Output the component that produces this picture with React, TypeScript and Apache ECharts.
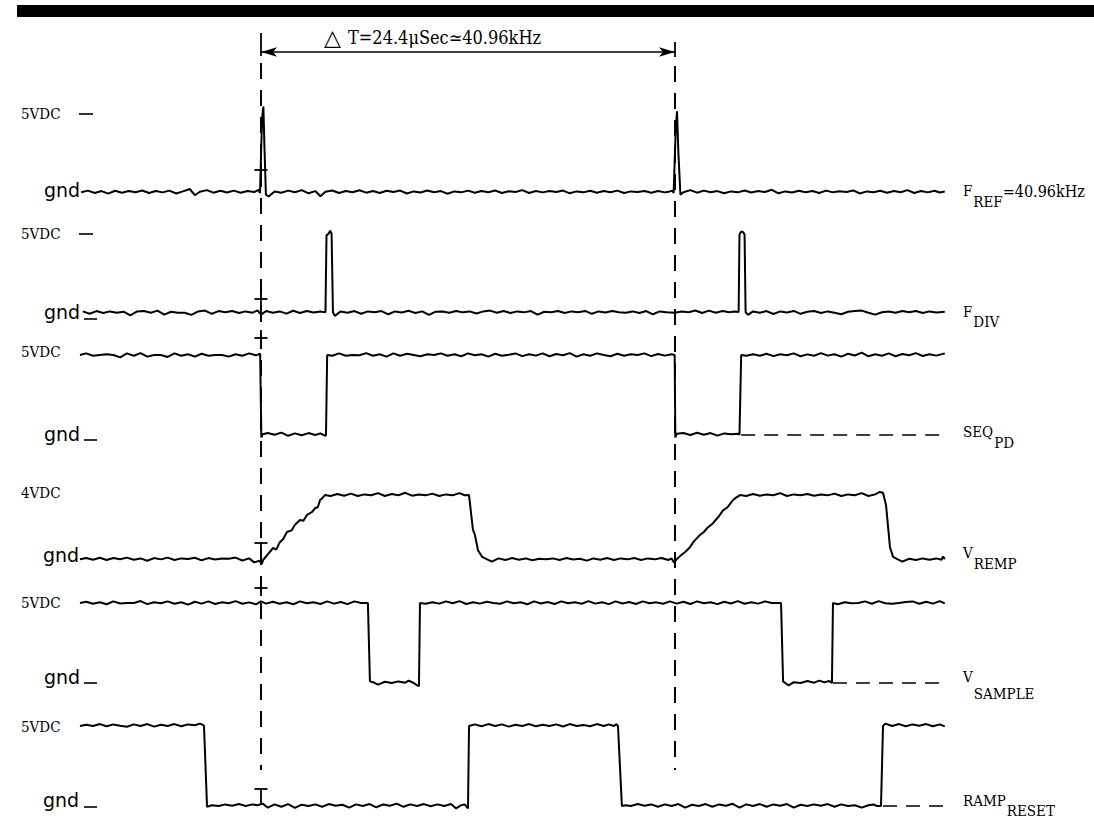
import React, { useEffect, useRef } from "react";
import * as echarts from "echarts";

// time axis in microseconds (t = 0 at the first reference pulse)
const T_MIN = -11;
const T_MAX = 40.5;
const PERIOD_US = 24.4;
const HEADER_TEXT = "T=24.4\u03bcSec\u224340.96kHz";

// [time µs, volts]
const fRef: [number, number][] = [
  [-10.6, 0.05], [-10.2, 0.15], [-9.8, 0], [-9.4, 0.12], [-9.0, -0.04], [-8.6, 0.14], [-8.2, 0.02], [-7.8, 0.13],
  [-7.4, 0.05], [-7.0, 0.16], [-6.6, 0], [-6.2, 0.13], [-5.8, 0.04], [-5.4, 0.15], [-5.0, -0.03], [-4.6, 0.1],
  [-4.2, 0.25], [-3.9, -0.14], [-3.6, 0.08], [-3.2, 0.18], [-2.8, 0.02], [-2.4, 0.14], [-2.0, 0.03], [-1.6, 0.15],
  [-1.2, 0.02], [-0.8, 0.12], [-0.4, 0.06], [-0.15, 0.2], [-0.06, 0], [0.06, 4.6], [0.14, 5.4], [0.2, 3.0],
  [0.29, -0.1], [0.45, -0.22], [0.8, 0.1], [1.2, 0.02], [1.6, 0.15], [2.0, 0.05], [2.4, 0.18], [2.8, -0.02],
  [3.2, 0.12], [3.5, -0.2], [3.8, 0.08], [4.2, 0.16], [4.6, 0], [5.0, 0.13], [5.4, 0.05], [5.8, 0.17],
  [6.2, 0.02], [6.6, 0.12], [7.0, 0], [7.4, 0.14], [7.8, 0.06], [8.2, 0.15], [8.6, -0.03], [9.0, 0.1],
  [9.4, 0.03], [9.8, 0.16], [10.2, 0.05], [10.6, 0.12], [11.0, -0.05], [11.4, 0.1], [11.8, 0.04], [12.2, 0.15],
  [12.6, 0.02], [13.0, 0.12], [13.4, 0.05], [13.8, 0.16], [14.2, 0], [14.6, 0.11], [15.0, 0.06], [15.4, 0.18],
  [15.8, 0], [16.2, 0.13], [16.6, 0.04], [17.0, 0.12], [17.4, 0.06], [17.8, 0.15], [18.2, -0.02], [18.6, 0.1],
  [19.0, 0.04], [19.4, 0.14], [19.8, 0.02], [20.2, 0.12], [20.6, 0.05], [21.0, 0.15], [21.4, 0], [21.8, 0.1],
  [22.2, 0.06], [22.6, 0.13], [23.0, 0.02], [23.4, 0.12], [23.8, 0.04], [24.1, 0.1], [24.25, 0.15], [24.32, 0],
  [24.45, 4.2], [24.52, 5.1], [24.6, 2.5], [24.72, -0.1], [24.9, 0.05], [25.3, 0.18], [25.7, 0.02], [26.1, 0.15],
  [26.5, 0.05], [26.9, 0.12], [27.3, -0.02], [27.7, 0.1], [28.1, 0.04], [28.5, 0.16], [28.9, 0.03], [29.3, 0.12],
  [29.7, 0.06], [30.1, 0.2], [30.5, -0.02], [30.9, 0.1], [31.3, 0.03], [31.7, 0.14], [32.1, 0.05], [32.5, 0.12],
  [32.9, 0], [33.3, 0.15], [33.7, 0.04], [34.1, 0.11], [34.5, 0.06], [34.9, 0.16], [35.3, -0.03], [35.7, 0.1],
  [36.1, 0.05], [36.5, 0.14], [36.9, 0.02], [37.3, 0.12], [37.7, 0.05], [38.1, 0.18], [38.5, 0], [38.9, 0.13],
  [39.3, 0.04], [39.7, 0.14], [40.0, 0.03], [40.3, 0.1],
];

const fDiv: [number, number][] = [
  [-10.5, 0.1], [-10.1, -0.05], [-9.7, 0.12], [-9.3, 0], [-8.9, 0.1], [-8.5, 0.02], [-8.1, 0.08], [-7.7, -0.15],
  [-7.3, 0.1], [-6.9, 0.12], [-6.5, 0.02], [-6.1, 0.15], [-5.7, -0.1], [-5.3, 0.08], [-4.9, 0.02], [-4.5, 0.02],
  [-4.1, -0.12], [-3.7, 0.1], [-3.3, 0.15], [-2.9, -0.05], [-2.5, 0.12], [-2.1, 0.05], [-1.7, 0.13], [-1.3, 0],
  [-0.9, 0.1], [-0.5, 0.02], [-0.2, 0.16], [0, -0.1], [0.3, 0.12], [0.7, 0.02], [1.1, 0.1], [1.5, -0.04],
  [1.9, 0.14], [2.3, 0], [2.7, 0.12], [3.1, 0.03], [3.5, 0.1], [3.8, 0.04], [3.86, 4.85], [3.98, 4.95],
  [4.08, 5.15], [4.16, 4.95], [4.24, 0.05], [4.35, -0.18], [4.7, 0.1], [5.1, 0.02], [5.5, 0.12], [5.9, -0.05],
  [6.3, 0.1], [6.7, 0.05], [7.1, 0.12], [7.5, -0.08], [7.9, 0.1], [8.3, 0.03], [8.7, 0.14], [9.1, 0],
  [9.5, 0.1], [9.9, -0.12], [10.3, 0.08], [10.7, 0.1], [11.1, 0.02], [11.5, 0.13], [11.9, 0.04], [12.3, 0.1],
  [12.7, -0.03], [13.1, 0.1], [13.5, 0.15], [13.9, 0.02], [14.3, 0.12], [14.7, 0], [15.1, 0.1], [15.5, 0.04],
  [15.9, 0.12], [16.3, -0.1], [16.7, 0.08], [17.1, 0.05], [17.5, 0.12], [17.9, 0], [18.3, 0.1], [18.7, 0.05],
  [19.1, 0.13], [19.5, -0.05], [19.9, 0.1], [20.3, 0.03], [20.7, 0.12], [21.1, 0.05], [21.5, 0.02], [21.9, 0.1],
  [22.3, 0], [22.7, 0.12], [23.1, -0.08], [23.5, 0.1], [23.9, 0.04], [24.4, 0.02], [24.8, 0.1], [25.2, 0.05],
  [25.6, 0.16], [26.0, 0], [26.4, 0.15], [26.8, 0.02], [27.2, 0.12], [27.6, 0.05], [27.9, 0.1], [28.15, 0.06],
  [28.2, 4.9], [28.3, 5.1], [28.42, 5.05], [28.5, 4.9], [28.56, 0.05], [28.7, -0.12], [29.0, 0.1], [29.4, 0.02],
  [29.8, 0.12], [30.2, -0.06], [30.6, 0.1], [31.0, 0.03], [31.4, 0.13], [31.8, -0.05], [32.2, 0.08], [32.6, 0.12],
  [33.0, 0], [33.4, 0.1], [33.8, 0.02], [34.2, -0.08], [34.6, 0.08], [35.0, 0.12], [35.4, 0.15], [35.8, 0.02],
  [36.2, -0.1], [36.6, 0.05], [37.0, 0.1], [37.4, 0.02], [37.8, 0.12], [38.2, 0.05], [38.6, 0.13], [39.0, 0],
  [39.4, 0.1], [39.8, 0.03], [40.3, 0.08],
];

const seqPd: [number, number][] = [
  [-10.67, 5.0], [-10.3, 5.1], [-9.9, 4.95], [-9.5, 5.0], [-9.1, 5.05], [-8.7, 5.0], [-8.3, 4.85], [-7.9, 5.1],
  [-7.5, 4.95], [-7.1, 5.12], [-6.7, 4.9], [-6.3, 5.0], [-5.9, 5.0], [-5.5, 4.88], [-5.1, 5.1], [-4.7, 4.95],
  [-4.3, 5.05], [-3.9, 4.9], [-3.5, 5.08], [-3.1, 4.95], [-2.7, 5.0], [-2.3, 5.0], [-1.9, 4.9], [-1.5, 5.05],
  [-1.1, 4.95], [-0.7, 5.1], [-0.3, 4.98], [-0.05, 5.08], [0.02, -0.15], [0.1, 0.05], [0.4, 0.12], [0.8, 0.02],
  [1.2, 0.15], [1.6, -0.05], [2.0, 0.1], [2.4, -0.02], [2.8, 0.12], [3.2, 0], [3.5, 0.1], [3.8, -0.05],
  [3.83, 0], [3.9, 5.0], [4.2, 4.95], [4.6, 5.1], [5.0, 4.95], [5.4, 5.0], [5.8, 4.98], [6.2, 5.12],
  [6.6, 4.95], [7.0, 5.05], [7.4, 4.9], [7.8, 5.1], [8.2, 4.95], [8.6, 5.08], [9.0, 5.0], [9.4, 4.92],
  [9.8, 5.05], [10.2, 5.0], [10.6, 5.1], [11.0, 4.95], [11.4, 5.05], [11.8, 4.92], [12.2, 5.1], [12.6, 4.98],
  [13.0, 5.05], [13.4, 4.9], [13.8, 5.08], [14.2, 4.95], [14.6, 5.02], [15.0, 5.1], [15.4, 4.93], [15.8, 5.05],
  [16.2, 4.96], [16.6, 5.1], [17.0, 4.92], [17.4, 5.06], [17.8, 4.98], [18.2, 5.12], [18.6, 4.9], [19.0, 5.05],
  [19.4, 4.95], [19.8, 5.1], [20.2, 5.0], [20.6, 4.92], [21.0, 5.08], [21.4, 4.95], [21.8, 5.05], [22.2, 5.0],
  [22.6, 5.1], [23.0, 4.93], [23.4, 5.06], [23.8, 4.96], [24.2, 5.05], [24.38, 5.0], [24.42, -0.15], [24.5, 0.08],
  [24.9, 0.12], [25.3, 0], [25.7, 0.14], [26.1, 0.02], [26.5, 0.12], [26.9, -0.04], [27.3, 0.1], [27.7, 0.05],
  [28.1, 0.08], [28.2, 0.02], [28.3, 5.0], [28.6, 4.95], [29.0, 5.05], [29.4, 4.95], [29.8, 5.08], [30.2, 4.93],
  [30.6, 5.05], [31.0, 4.98], [31.4, 5.1], [31.8, 4.92], [32.2, 5.04], [32.6, 4.95], [33.0, 5.12], [33.4, 4.96],
  [33.8, 5.05], [34.2, 4.9], [34.6, 5.08], [35.0, 4.97], [35.4, 5.15], [35.8, 4.92], [36.2, 5.05], [36.6, 4.95],
  [37.0, 5.1], [37.4, 4.92], [37.8, 5.06], [38.2, 4.98], [38.6, 5.12], [39.0, 4.94], [39.4, 5.05], [39.8, 4.96],
  [40.3, 5.1],
];
const seqPdTail: [number, number][] = [[28.3, 0], [40.3, 0]];

const vRemp: [number, number][] = [
  [-10.67, 0.05], [-10.3, 0.12], [-9.9, 0.02], [-9.5, 0.14], [-9.1, 0], [-8.7, 0.12], [-8.3, 0.05], [-7.9, 0.15],
  [-7.5, 0.02], [-7.1, 0.1], [-6.7, -0.05], [-6.3, 0.12], [-5.9, 0.04], [-5.5, 0.15], [-5.1, 0], [-4.7, 0.1],
  [-4.3, 0.06], [-3.9, 0.14], [-3.5, -0.02], [-3.1, 0.12], [-2.7, 0.03], [-2.3, 0.1], [-1.9, 0.08], [-1.5, 0.15],
  [-1.1, -0.03], [-0.7, 0.1], [-0.4, -0.15], [-0.1, -0.05], [0.05, -0.25], [0.12, 0], [0.4, 0.35], [0.71, 0.75],
  [0.9, 0.65], [1.1, 1.1], [1.3, 1.3], [1.53, 1.75], [1.8, 1.85], [2.0, 2.2], [2.3, 2.5], [2.5, 2.45],
  [2.7, 2.8], [3.0, 3.0], [3.2, 3.25], [3.35, 3.3], [3.48, 3.75], [3.6, 3.85], [3.77, 4.06], [4.1, 4.0],
  [4.5, 4.12], [4.9, 4.02], [5.3, 4.15], [5.7, 4.0], [6.1, 4.1], [6.5, 4.05], [6.9, 4.18], [7.3, 4.0],
  [7.7, 4.12], [8.1, 4.05], [8.5, 4.2], [8.9, 4.02], [9.3, 4.1], [9.7, 4.04], [10.1, 4.15], [10.5, 4.0],
  [10.9, 4.1], [11.3, 4.05], [11.7, 4.18], [12.0, 4.05], [12.26, 4.06], [12.49, 1.9], [12.6, 1.6], [12.79, 0.6],
  [13.03, 0.2], [13.3, 0.05], [13.6, -0.1], [14.0, 0.1], [14.4, 0], [14.8, 0.12], [15.2, 0.02], [15.6, 0.1],
  [16.0, -0.02], [16.4, 0.08], [16.8, 0.05], [17.2, 0.1], [17.6, 0], [18.0, 0.12], [18.4, 0.03], [18.8, 0.08],
  [19.2, -0.04], [19.6, 0.1], [20.0, 0.02], [20.4, 0.12], [20.8, 0], [21.2, 0.1], [21.6, 0.04], [22.0, 0.12],
  [22.4, 0], [22.8, 0.1], [23.2, 0.04], [23.6, 0.12], [24.0, 0], [24.2, 0.1], [24.34, -0.15], [24.5, 0.05],
  [24.7, 0.25], [25.0, 0.5], [25.28, 0.8], [25.5, 1.15], [25.87, 1.56], [26.1, 1.75], [26.3, 2.0], [26.64, 2.3],
  [26.8, 2.5], [27.0, 2.75], [27.23, 3.1], [27.5, 3.3], [27.82, 3.75], [28.0, 3.9], [28.23, 4.06], [28.6, 4.0],
  [29.0, 4.12], [29.4, 4.02], [29.8, 4.1], [30.2, 4.05], [30.6, 4.18], [31.0, 4.0], [31.4, 4.1], [31.8, 4.05],
  [32.2, 4.12], [32.6, 4.02], [33.0, 4.1], [33.4, 4.04], [33.8, 4.15], [34.2, 4.0], [34.6, 4.1], [35.0, 4.05],
  [35.4, 4.18], [35.8, 4.0], [36.2, 4.1], [36.45, 4.25], [36.66, 4.2], [36.84, 3.4], [37.07, 0.8], [37.25, 0.2],
  [37.5, 0.05], [37.8, -0.1], [38.2, 0.08], [38.6, 0], [39.0, 0.1], [39.4, 0.02], [39.8, 0.1], [40.1, 0.02],
  [40.2, 0.22], [40.3, 0.05],
];

const vSample: [number, number][] = [
  [-10.67, 5.0], [-10.3, 5.08], [-9.9, 4.95], [-9.5, 5.05], [-9.1, 4.92], [-8.7, 5.1], [-8.3, 4.97], [-7.9, 5.0],
  [-7.5, 5.0], [-7.1, 5.12], [-6.7, 4.93], [-6.3, 5.05], [-5.9, 4.98], [-5.5, 5.1], [-5.1, 4.95], [-4.7, 5.05],
  [-4.3, 4.9], [-3.9, 5.08], [-3.5, 4.96], [-3.1, 5.1], [-2.7, 4.94], [-2.3, 5.05], [-1.9, 4.98], [-1.5, 5.12],
  [-1.1, 4.95], [-0.7, 5.04], [-0.3, 4.92], [0, 5.1], [0.3, 4.96], [0.7, 5.08], [1.1, 4.95], [1.5, 5.05],
  [1.9, 4.92], [2.3, 5.1], [2.7, 4.98], [3.1, 5.05], [3.5, 4.94], [3.9, 5.1], [4.3, 4.96], [4.7, 5.06],
  [5.1, 4.93], [5.5, 5.1], [5.9, 5.0], [6.3, 5.0], [6.42, 0.1], [6.6, 0.05], [6.9, -0.1], [7.3, 0.08],
  [7.7, 0], [8.1, 0.1], [8.5, 0.02], [8.7, 0.15], [9.0, 0], [9.2, -0.15], [9.31, -0.2], [9.37, 5.0],
  [9.7, 4.95], [10.1, 5.05], [10.5, 4.96], [10.9, 5.1], [11.3, 4.98], [11.7, 5.12], [12.1, 4.94], [12.5, 5.05],
  [12.9, 4.96], [13.3, 5.08], [13.7, 5.0], [14.1, 4.95], [14.5, 5.1], [14.9, 4.98], [15.3, 5.05], [15.7, 4.92],
  [16.1, 5.1], [16.5, 4.97], [16.9, 5.06], [17.3, 4.94], [17.7, 5.1], [18.1, 4.98], [18.5, 5.05], [18.9, 4.95],
  [19.3, 5.12], [19.7, 4.96], [20.1, 5.05], [20.5, 4.93], [20.9, 5.1], [21.3, 4.97], [21.7, 5.06], [22.1, 4.94],
  [22.5, 5.1], [22.9, 4.98], [23.3, 5.04], [23.7, 4.95], [24.1, 5.1], [24.5, 4.96], [24.9, 5.08], [25.3, 4.94],
  [25.7, 5.1], [26.1, 4.98], [26.5, 5.05], [26.9, 4.93], [27.3, 5.08], [27.7, 4.97], [28.1, 5.12], [28.5, 4.95],
  [28.9, 5.05], [29.3, 4.96], [29.7, 5.1], [30.1, 5.0], [30.5, 5.0], [30.65, 5.0], [30.77, 0.1], [30.9, 0],
  [31.1, -0.15], [31.4, 0.05], [31.8, 0], [32.2, 0.12], [32.6, 0.02], [32.9, 0.15], [33.2, 0.05], [33.5, 0.12],
  [33.65, 0], [33.71, 5.0], [34.0, 4.92], [34.4, 5.05], [34.8, 4.98], [35.2, 5.0], [35.6, 5.1], [36.0, 4.95],
  [36.4, 5.12], [36.8, 4.98], [37.2, 4.95], [37.6, 5.0], [38.0, 5.06], [38.4, 5.1], [38.8, 4.95], [39.2, 5.08],
  [39.6, 4.96], [40.0, 5.12], [40.3, 4.98],
];
const vSampleTail: [number, number][] = [[33.71, 0], [40.3, 0]];

const rampReset: [number, number][] = [
  [-10.67, 5.0], [-10.3, 5.08], [-9.9, 5.0], [-9.5, 5.12], [-9.1, 4.98], [-8.7, 5.1], [-8.3, 5.02], [-7.9, 4.95],
  [-7.5, 5.1], [-7.1, 5.0], [-6.7, 5.12], [-6.3, 4.96], [-5.9, 5.08], [-5.5, 5.0], [-5.1, 5.12], [-4.7, 4.98],
  [-4.3, 5.1], [-3.9, 5.05], [-3.6, 5.15], [-3.4, 5.05], [-3.36, 5.0], [-3.18, -0.05], [-2.9, 0.05], [-2.5, 0],
  [-2.1, 0.1], [-1.7, 0.02], [-1.3, 0.12], [-0.9, 0], [-0.5, 0.1], [-0.2, 0.05], [0.1, 0.15], [0.4, -0.1],
  [0.8, 0.1], [1.2, -0.05], [1.6, 0.12], [2.0, -0.12], [2.4, 0.08], [2.8, 0], [3.2, 0.1], [3.6, -0.05],
  [4.0, 0.12], [4.4, 0.02], [4.8, 0.08], [5.2, -0.1], [5.6, 0.1], [6.0, 0], [6.4, 0.12], [6.8, -0.08],
  [7.2, 0.1], [7.6, 0.02], [8.0, 0.15], [8.4, -0.05], [8.8, 0.1], [9.2, 0], [9.6, 0.12], [10.0, -0.02],
  [10.4, 0.1], [10.8, 0], [11.2, 0.12], [11.5, -0.15], [11.8, 0.05], [12.0, 0.1], [12.2, -0.15], [12.26, 5.0],
  [12.6, 5.1], [13.0, 4.98], [13.4, 5.12], [13.8, 5.0], [14.2, 5.1], [14.6, 4.96], [15.0, 5.08], [15.4, 5.0],
  [15.8, 5.12], [16.2, 4.98], [16.6, 5.08], [17.0, 5.0], [17.4, 5.1], [17.8, 4.97], [18.2, 5.12], [18.6, 5.0],
  [19.0, 5.06], [19.4, 4.98], [19.8, 5.12], [20.2, 5.0], [20.5, 5.1], [20.8, 5.0], [20.95, 5.12], [21.04, 5.0],
  [21.27, 0], [21.5, 0.05], [21.8, 0], [22.2, 0.12], [22.6, 0.02], [23.0, 0.1], [23.4, -0.05], [23.8, 0.1],
  [24.2, 0], [24.6, 0.12], [25.0, -0.1], [25.4, 0.08], [25.8, 0], [26.2, 0.12], [26.6, -0.05], [27.0, 0.1],
  [27.4, 0.02], [27.8, 0.14], [28.2, -0.1], [28.6, 0.1], [29.0, 0], [29.4, 0.12], [29.8, -0.05], [30.2, 0.1],
  [30.6, 0.02], [31.0, 0.12], [31.4, -0.1], [31.8, 0.08], [32.2, 0], [32.6, 0.1], [33.0, 0.02], [33.4, 0.12],
  [33.8, -0.05], [34.2, 0.1], [34.6, 0], [35.0, 0.05], [35.4, -0.1], [35.8, 0.05], [36.1, 0.1], [36.3, 0],
  [36.54, 0], [36.66, 5.0], [36.8, 5.15], [37.2, 5.0], [37.6, 5.12], [38.0, 4.98], [38.4, 5.1], [38.8, 5.02],
  [39.2, 5.12], [39.6, 4.98], [40.0, 5.1], [40.3, 4.98],
];
const rampResetTail: [number, number][] = [[36.66, 0], [40.3, 0]];

const traceData = [fRef, fDiv, seqPd, vRemp, vSample, rampReset];
const traceTails = [null, null, seqPdTail, null, vSampleTail, rampResetTail];
const traceMain = ["F", "F", "SEQ", "V", "V", "RAMP"];
const traceSub = ["REF", "DIV", "PD", "REMP", "SAMPLE", "RESET"];
const traceSuffix = ["=40.96kHz", "", "", "", "", ""];
const levelHigh = ["5VDC", "5VDC", "5VDC", "4VDC", "5VDC", "5VDC"];
const levelLow = ["gnd", "gnd", "gnd", "gnd", "gnd", "gnd"];

// ---- layout (pixels) ----
const W = 1094;
const H = 823;
const PX_PER_US = 414 / PERIOD_US;
const X0_PX = 261;
const GRID_LEFT = X0_PX - (0 - T_MIN) * PX_PER_US;
const GRID_WIDTH = (T_MAX - T_MIN) * PX_PER_US;
const GND_PX = [193, 313, 435, 560, 683, 806];
const HIGH_LABEL_Y = [114, 234, 352, 493, 603, 727];
const LOW_LABEL_Y = [190, 312, 434, 555, 677, 800];
const LOW_LABEL_X = [44, 44, 44, 43, 44, 43];
const HIGH_DASH = [true, true, false, false, false, false];
const LOW_UNDERSCORE_Y = [null, 319, 440, null, 683, 807];
const MAIN_LABEL_Y = [191, 312, 432, 553, 677, 801];
const SUB_LABEL_Y = [202, 322, 443, 564, 694, 811];
const LABEL_X = 963;
const MARKS = [
  { y: 170, kind: "+" },
  { y: 299, kind: "+" },
  { y: 338, kind: "+" },
  { y: 543, kind: "T" },
  { y: 588, kind: "+" },
  { y: 789, kind: "T" },
];

const SERIF = '"DejaVu Serif Condensed", "DejaVu Serif", serif';
const SANS = '"DejaVu Sans", sans-serif';

const measureCtx = (() => {
  try {
    return document.createElement("canvas").getContext("2d");
  } catch (e) {
    return null;
  }
})();
function textWidth(text: string, size: number, family: string) {
  if (!measureCtx) return text.length * size * 0.6;
  measureCtx.font = `${size}px ${family}`;
  return measureCtx.measureText(text).width;
}

function textEl(text: string, x: number, y: number, size: number, family: string) {
  return {
    type: "text",
    silent: true,
    style: {
      text,
      x,
      y,
      fontSize: size,
      fontFamily: family,
      fill: "#000",
      align: "left",
      verticalAlign: "middle",
      textAlign: "left",
      textVerticalAlign: "middle",
    },
  };
}

function lineEl(x1: number, y1: number, x2: number, y2: number, w = 1.6) {
  return {
    type: "line",
    silent: true,
    shape: { x1, y1, x2, y2 },
    style: { stroke: "#000", lineWidth: w },
  };
}

export default function App() {
  const ref = useRef<HTMLDivElement>(null);

  useEffect(() => {
    if (!ref.current) return;
    const chart = echarts.init(ref.current, null, { renderer: "svg", width: W, height: H });

    const grids: any[] = [];
    const xAxes: any[] = [];
    const yAxes: any[] = [];
    const series: any[] = [];

    traceData.forEach((data, i) => {
      grids.push({ left: GRID_LEFT, width: GRID_WIDTH, top: GND_PX[i] - 96, height: 112 });
      xAxes.push({ type: "value", gridIndex: i, min: T_MIN, max: T_MAX, show: false });
      yAxes.push({ type: "value", gridIndex: i, min: -1, max: 6, show: false });
      series.push({
        type: "line",
        name: traceMain[i] + traceSub[i],
        xAxisIndex: i,
        yAxisIndex: i,
        data,
        showSymbol: false,
        symbol: "none",
        silent: true,
        lineStyle: { color: "#000", width: 2 },
      });
      const tail = traceTails[i];
      if (tail) {
        series.push({
          type: "line",
          xAxisIndex: i,
          yAxisIndex: i,
          data: tail,
          showSymbol: false,
          symbol: "none",
          silent: true,
          lineStyle: { color: "#000", width: 1.5, type: [14, 9] },
        });
      }
    });

    // overlay grid (page pixels vertically) for the timing markers
    const ov = traceData.length;
    grids.push({ left: GRID_LEFT, width: GRID_WIDTH, top: 0, height: H });
    xAxes.push({ type: "value", gridIndex: ov, min: T_MIN, max: T_MAX, show: false });
    yAxes.push({ type: "value", gridIndex: ov, min: 0, max: H, inverse: true, show: false });

    const halfTick = 6.5 / PX_PER_US;
    const solid = { type: "solid", width: 1.8, color: "#000" };
    const mlData: any[] = [
      [{ coord: [0, 63], lineStyle: { type: [16, 11], width: 2, color: "#000" } }, { coord: [0, 770] }],
      [{ coord: [PERIOD_US, 66], lineStyle: { type: [16, 11], width: 2, color: "#000" } }, { coord: [PERIOD_US, 770] }],
      [{ coord: [0, 33], lineStyle: solid }, { coord: [0, 56] }],
      [{ coord: [PERIOD_US, 42], lineStyle: solid }, { coord: [PERIOD_US, 57] }],
      [
        { coord: [0, 52], symbol: "arrow", symbolSize: [7, 16], lineStyle: { type: "solid", width: 1.5, color: "#000" } },
        { coord: [PERIOD_US, 52], symbol: "arrow", symbolSize: [7, 16] },
      ],
    ];
    MARKS.forEach((m) => {
      mlData.push([{ coord: [-halfTick, m.y], lineStyle: solid }, { coord: [halfTick, m.y] }]);
      if (m.kind === "+") {
        mlData.push([{ coord: [0, m.y - 8], lineStyle: solid }, { coord: [0, m.y + 8] }]);
      } else {
        mlData.push([{ coord: [0, m.y], lineStyle: solid }, { coord: [0, m.y + 16] }]);
      }
    });
    series.push({
      type: "line",
      xAxisIndex: ov,
      yAxisIndex: ov,
      data: [[T_MIN, -50]],
      showSymbol: false,
      symbol: "none",
      silent: true,
      lineStyle: { opacity: 0 },
      markLine: {
        silent: true,
        symbol: ["none", "none"],
        label: { show: false },
        lineStyle: { color: "#000", width: 2, type: "solid" },
        emphasis: { disabled: true },
        data: mlData,
      },
    });

    const graphics: any[] = [
      { type: "rect", silent: true, shape: { x: 17, y: 5, width: W - 17, height: 12 }, style: { fill: "#000" } },
      textEl("\u25b3", 324, 37, 22, SANS),
      textEl(HEADER_TEXT, 348, 37, 18, SERIF),
    ];
    traceData.forEach((_, i) => {
      graphics.push(textEl(levelHigh[i], 21, HIGH_LABEL_Y[i], 15, SERIF));
      if (HIGH_DASH[i]) graphics.push(lineEl(79, HIGH_LABEL_Y[i], 93, HIGH_LABEL_Y[i]));
      graphics.push(textEl(levelLow[i], LOW_LABEL_X[i], LOW_LABEL_Y[i], 19, SANS));
      const u = LOW_UNDERSCORE_Y[i];
      if (u !== null) graphics.push(lineEl(84, u, 97, u));
      const mainW = textWidth(traceMain[i], 15, SERIF);
      const subX = LABEL_X + mainW + 1;
      graphics.push(textEl(traceMain[i], LABEL_X, MAIN_LABEL_Y[i], 15, SERIF));
      graphics.push(textEl(traceSub[i], subX, SUB_LABEL_Y[i], 15, SERIF));
      if (traceSuffix[i]) {
        const subW = textWidth(traceSub[i], 15, SERIF);
        graphics.push(textEl(traceSuffix[i], subX + subW, MAIN_LABEL_Y[i], 16, SERIF));
      }
    });

    chart.setOption({
      animation: false,
      backgroundColor: "#fff",
      grid: grids,
      xAxis: xAxes,
      yAxis: yAxes,
      series,
      graphic: { elements: graphics },
    });

    return () => chart.dispose();
  }, []);

  return (
    <div
      ref={ref}
      style={{ position: "fixed", left: 0, top: 0, width: W, height: H, background: "#fff" }}
    />
  );
}
